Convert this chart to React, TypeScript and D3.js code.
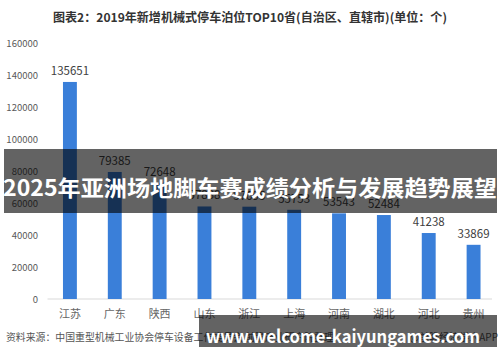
import React from 'react';
import * as d3 from 'd3';

const provinces = ['江苏', '广东', '陕西', '山东', '浙江', '上海', '河南', '湖北', '河北', '贵州'];
const berths = [135651, 79385, 72648, 57838, 57695, 55753, 53543, 52484, 41238, 33869];
const yTicks = [0, 20000, 40000, 60000, 80000, 100000, 120000, 140000, 160000];

const titleText = '图表2：2019年新增机械式停车泊位TOP10省(自治区、直辖市)(单位：个)';
const sourceText = '资料来源：中国重型机械工业协会停车设备工作委员会 前瞻产业研究院整理';
const brandText = '@前瞻经济学人APP';
const bannerText = '2025年亚洲场地脚车赛成绩分析与发展趋势展望';
const urlText = 'www.welcome-kaiyungames.com';

const W = 500;
const H = 362;
const font = '"Noto Sans CJK SC", "Noto Sans", sans-serif';

const App = () => {
  const x = d3.scaleBand()
    .domain(provinces)
    .range([47.5, 496])
    .paddingInner(0.69)
    .paddingOuter(0.345);

  const y = d3.scaleLinear()
    .domain([0, 160000])
    .range([299, 43]);

  const data = provinces.map((p, i) => ({ p, v: berths[i] }));

  return (
    <svg width={W} height={H} style={{ position: 'fixed', left: 0, top: 0, background: '#fff' }}
      fontFamily={font}>
      <rect width={W} height={H} fill="#fff" />
      <text x={250} y={16} textAnchor="middle" dominantBaseline="central"
        fontSize={12} fontWeight="bold" fill="#333" textLength={394} lengthAdjust="spacingAndGlyphs">
        {titleText}
      </text>

      {/* y axis labels */}
      {yTicks.map((t) => (
        <text key={t} x={38} y={y(t)} textAnchor="end" dominantBaseline="central"
          fontSize={9.5} fill="#595959">
          {t}
        </text>
      ))}

      {/* baseline */}
      <line x1={47.5} x2={492} y1={299} y2={299} stroke="#d9d9d9" strokeWidth={1} />

      {data.map((d) => (
        <g key={d.p}>
          <rect x={x(d.p)} y={y(d.v)} width={x.bandwidth()} height={y(0) - y(d.v)} fill="#3a7fd9" />
          <text x={(x(d.p) as number) + x.bandwidth() / 2} y={y(d.v) - 12} textAnchor="middle"
            dominantBaseline="central" fontSize={11.5} fill="#404040">
            {d.v}
          </text>
          <text x={(x(d.p) as number) + x.bandwidth() / 2} y={313} textAnchor="middle"
            dominantBaseline="central" fontSize={11} fill="#666">
            {d.p}
          </text>
        </g>
      ))}

      <text x={6} y={336} dominantBaseline="central" fontSize={10} fill="#555"
        textLength={328} lengthAdjust="spacingAndGlyphs">
        {sourceText}
      </text>
      <text x={498} y={336} textAnchor="end" dominantBaseline="central" fontSize={10} fill="#555">
        {brandText}
      </text>

      {/* overlays */}
      <rect x={4} y={149} width={493} height={64} fill="#000" fillOpacity={0.61} />
      <text x={250} y={186} textAnchor="middle" dominantBaseline="central" fontSize={22}
        fontWeight="bold" fill="#fff" textLength={494} lengthAdjust="spacingAndGlyphs">
        {bannerText}
      </text>
      <rect x={199} y={315} width={298} height={32} fill="#000" fillOpacity={0.61} />
      <text x={343} y={335} textAnchor="middle" dominantBaseline="central" fontSize={18}
        fontWeight="bold" fill="#fff" textLength={274} lengthAdjust="spacingAndGlyphs">
        {urlText}
      </text>
    </svg>
  );
};

export default App;
